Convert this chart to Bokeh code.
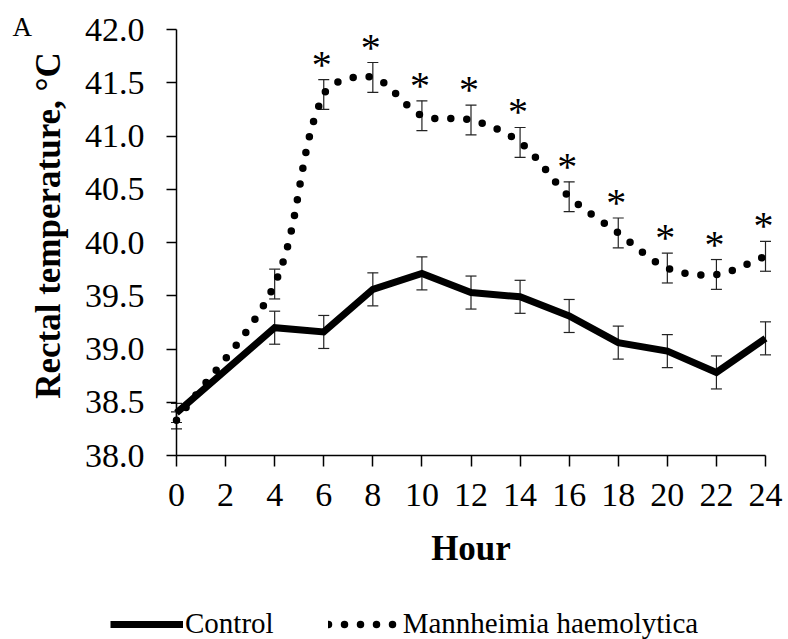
import numpy as np
from bokeh.plotting import figure
from bokeh.models import (Range1d, FixedTicker, PrintfTickFormatter, Whisker, TeeHead,
                          ColumnDataSource, Label, LabelSet, Legend, LegendItem)
from bokeh.embed import file_html
from bokeh.resources import INLINE

# ---- data ----
hours = [0, 4, 6, 8, 10, 12, 14, 16, 18, 20, 22, 24]
control = [38.40, 39.20, 39.16, 39.56, 39.71, 39.53, 39.49, 39.31, 39.06, 38.98, 38.78, 39.10]
control_se = [0.09, 0.155, 0.155, 0.155, 0.155, 0.155, 0.155, 0.155, 0.155, 0.155, 0.155, 0.155]
mh = [38.33, 39.61, 41.39, 41.55, 41.19, 41.15, 40.94, 40.43, 40.09, 39.76, 39.70, 39.87]
mh_se = [0.08, 0.14, 0.14, 0.14, 0.14, 0.14, 0.14, 0.14, 0.14, 0.14, 0.14, 0.14]
significance = ["", "", "*", "*", "*", "*", "*", "*", "*", "*", "*", "*"]
x_ticks = [0, 2, 4, 6, 8, 10, 12, 14, 16, 18, 20, 22, 24]
y_ticks = [38.0, 38.5, 39.0, 39.5, 40.0, 40.5, 41.0, 41.5, 42.0]
series_names = ["Control", "Mannheimia haemolytica"]
x_label = "Hour"
y_label = "Rectal temperature, °C"
panel_letter = "A"

FONT = "Liberation Serif"

# ---- layout (pixels) ----
W, H = 788, 639
AX_LEFT, AX_RIGHT = 176, 765      # x = 0 .. 24
AX_TOP, AX_BOTTOM = 29, 455       # y = 42 .. 38
XMIN, XMAX = x_ticks[0], x_ticks[-1]
YMIN, YMAX = y_ticks[0], y_ticks[-1]
PX_X = (AX_RIGHT - AX_LEFT) / (XMAX - XMIN)
PX_Y = (AX_BOTTOM - AX_TOP) / (YMAX - YMIN)
x_range = Range1d(XMIN - AX_LEFT / PX_X, XMAX + (W - AX_RIGHT) / PX_X)
y_range = Range1d(YMIN - (H - AX_BOTTOM) / PX_Y, YMAX + AX_TOP / PX_Y)


def smooth_curve(xs, ys, n=40):
    """Excel-like smoothed line: Bezier segments through the data points,
    with tangents scaled by neighbouring segment lengths (in pixel space)."""
    P = np.column_stack([np.asarray(xs, float) * PX_X, np.asarray(ys, float) * PX_Y])
    t = np.linspace(0, 1, n)[:, None]
    out = []
    m = len(P)
    for i in range(m - 1):
        p0, p3 = P[i], P[i + 1]
        prev = P[i - 1] if i > 0 else P[i]
        nxt = P[i + 2] if i + 2 < m else P[i + 1]
        d_prev = np.hypot(*(p0 - prev))
        d_cur = np.hypot(*(p3 - p0))
        d_next = np.hypot(*(nxt - p3))
        c1 = p0 + (p3 - prev) * (d_cur / (d_prev + d_cur)) / 3.0
        c2 = p3 - (nxt - p0) * (d_cur / (d_cur + d_next)) / 3.0
        seg = ((1 - t) ** 3) * p0 + 3 * ((1 - t) ** 2) * t * c1 + 3 * (1 - t) * t ** 2 * c2 + t ** 3 * p3
        out.append(seg if i == 0 else seg[1:])
    out = np.vstack(out)
    return out[:, 0] / PX_X, out[:, 1] / PX_Y


p = figure(width=W, height=H, output_backend="svg", toolbar_location=None,
           x_range=x_range, y_range=y_range,
           min_border_left=0, min_border_right=0, min_border_top=0, min_border_bottom=0)
p.outline_line_color = None
p.xgrid.visible = False
p.ygrid.visible = False
p.background_fill_color = "white"
p.border_fill_color = "white"

# axes
for ax in (p.xaxis[0], p.yaxis[0]):
    ax.axis_line_color = "black"
    ax.axis_line_width = 1.5
    ax.major_tick_line_color = "black"
    ax.major_tick_line_width = 1.5
    ax.major_tick_in = 0
    ax.minor_tick_line_color = None
    ax.major_label_text_font = FONT
    ax.major_label_text_font_size = "34px"
    ax.major_label_text_color = "black"

p.xaxis[0].fixed_location = YMIN
p.xaxis[0].bounds = (XMIN, XMAX)
p.xaxis[0].ticker = FixedTicker(ticks=x_ticks)
p.xaxis[0].major_tick_out = 11
p.xaxis[0].major_label_standoff = 17
p.xaxis[0].axis_label = x_label
p.xaxis[0].axis_label_text_font = FONT
p.xaxis[0].axis_label_text_font_style = "bold"
p.xaxis[0].axis_label_text_font_size = "35px"
p.xaxis[0].axis_label_text_color = "black"
p.xaxis[0].axis_label_standoff = 20

p.yaxis[0].fixed_location = XMIN
p.yaxis[0].bounds = (YMIN, YMAX)
p.yaxis[0].ticker = FixedTicker(ticks=y_ticks)
p.yaxis[0].formatter = PrintfTickFormatter(format="%.1f")
p.yaxis[0].major_tick_out = 10
p.yaxis[0].major_label_standoff = 22

# Control line
ctrl_r = p.line(hours, control, line_color="black", line_width=7, line_join="miter")

# Mannheimia smoothed dotted line
sx, sy = smooth_curve(hours, mh)
mh_r = p.line(sx, sy, line_color="black", line_width=7.5, line_dash="0 16", line_cap="round")

# error bars
for vals, se in ((control, control_se), (mh, mh_se)):
    src = ColumnDataSource(dict(x=hours,
                                upper=[v + e for v, e in zip(vals, se)],
                                lower=[v - e for v, e in zip(vals, se)]))
    w = Whisker(base="x", upper="upper", lower="lower", source=src,
                line_color="#222222", line_width=1.2,
                upper_head=TeeHead(size=11, line_color="#222222", line_width=1.2),
                lower_head=TeeHead(size=11, line_color="#222222", line_width=1.2))
    p.add_layout(w)

# asterisks
star_src = ColumnDataSource(dict(x=hours, top=[v + e for v, e in zip(mh, mh_se)], star=significance))
stars = LabelSet(x="x", y="top", text="star", source=star_src, text_align="center",
                 text_baseline="alphabetic", x_offset=-2, y_offset=2,
                 text_font=FONT, text_font_size="40px", text_color="black")
p.add_layout(stars)

# y axis label
ylab = Label(x=XMIN, y=40.16, x_offset=-128, text=y_label, angle=np.pi / 2,
             text_align="center", text_baseline="middle", text_font=FONT,
             text_font_style="bold", text_font_size="35px", text_color="black")
p.add_layout(ylab)

# panel letter
alab = Label(x=XMIN, y=YMAX, x_offset=-164, y_offset=3, text=panel_letter, text_align="left",
             text_baseline="alphabetic", text_font=FONT, text_font_size="27px", text_color="black")
p.add_layout(alab)

legend = Legend(items=[LegendItem(label=series_names[0], renderers=[ctrl_r]),
                       LegendItem(label=series_names[1], renderers=[mh_r])],
                location=(110, -1), orientation="horizontal",
                glyph_width=73, glyph_height=20, label_standoff=2, spacing=54,
                padding=0, margin=0, border_line_alpha=0, background_fill_alpha=0,
                label_text_font=FONT, label_text_font_size="29px", label_text_color="black")
p.add_layout(legend)

open("out.html", "w").write(file_html(p, INLINE))
